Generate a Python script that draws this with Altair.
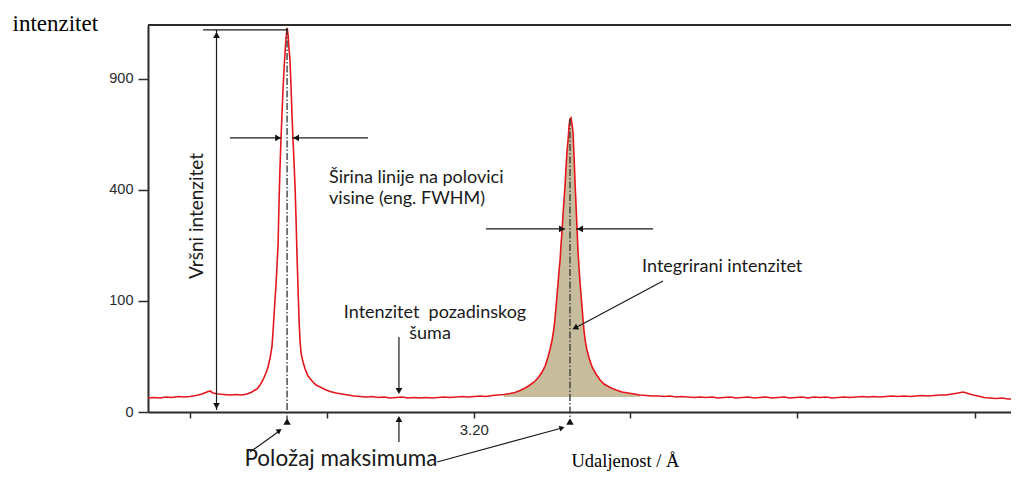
import math
import altair as alt
import pandas as pd

# ---------------- data ----------------
# diffraction curve: 2-theta (deg) and intensity (counts)
two_theta = [
    25.942, 25.977, 26.013, 26.048, 26.083, 26.118, 26.154, 26.189, 26.224, 26.260,
    26.289, 26.307, 26.324, 26.354, 26.389, 26.424, 26.460, 26.495, 26.524, 26.548,
    26.571, 26.583, 26.601, 26.618, 26.636, 26.648, 26.660, 26.671, 26.677, 26.683,
    26.689, 26.695, 26.701, 26.707, 26.713, 26.718, 26.724, 26.730, 26.736, 26.742,
    26.748, 26.754, 26.760, 26.766, 26.771, 26.777, 26.783, 26.789, 26.795, 26.801,
    26.807, 26.813, 26.818, 26.824, 26.830, 26.836, 26.842, 26.854, 26.866, 26.883,
    26.907, 26.930, 26.954, 26.983, 27.013, 27.048, 27.083, 27.118,
    27.154, 27.189, 27.224, 27.260, 27.295, 27.330, 27.366, 27.401, 27.436, 27.471,
    27.507, 27.542, 27.577, 27.613, 27.648, 27.683, 27.718, 27.754, 27.789, 27.824,
    27.860, 27.895, 27.930, 27.966, 28.001, 28.036, 28.071, 28.101, 28.130, 28.160,
    28.189, 28.213, 28.236, 28.260, 28.278, 28.295, 28.307, 28.319, 28.330, 28.336,
    28.342, 28.348, 28.354, 28.360, 28.366, 28.371, 28.377, 28.383, 28.389, 28.395,
    28.401, 28.407, 28.413, 28.418, 28.424, 28.430, 28.436, 28.442, 28.448, 28.454,
    28.460, 28.466, 28.471, 28.477, 28.483, 28.489, 28.495, 28.501, 28.507, 28.513,
    28.524, 28.536, 28.554, 28.577, 28.601, 28.624, 28.660, 28.695, 28.730, 28.766,
    28.801, 28.836, 28.871, 28.907,
    28.942, 28.977, 29.013, 29.048, 29.083, 29.118, 29.154, 29.189, 29.224, 29.260,
    29.295, 29.330, 29.366, 29.401, 29.436, 29.471, 29.507, 29.542, 29.577, 29.613,
    29.648, 29.683, 29.718, 29.754, 29.789, 29.824, 29.860, 29.895, 29.930, 29.966,
    30.001, 30.036, 30.071, 30.107, 30.142, 30.177, 30.213, 30.248, 30.283, 30.318,
    30.354, 30.389, 30.424, 30.460, 30.495, 30.530, 30.566, 30.601, 30.636, 30.671,
    30.707, 30.736, 30.766, 30.795, 30.824, 30.860, 30.895, 30.930, 30.966, 31.001,
    31.018,
]
intensity = [
    1.59, 1.71, 1.59, 1.83, 1.71, 1.95, 1.83, 1.95, 2.21, 2.63,
    3.25, 3.58, 2.93, 2.63, 2.49, 2.35, 2.49, 2.35, 2.63, 3.09,
    3.93, 4.29, 5.92, 8.31, 12.34, 16.44, 23.67, 34.29, 50.65, 74.80,
    101.8, 130.9, 175.4, 226.4, 364.8, 475.3, 600.5, 715.9, 841.5, 949.3,
    1046.0, 1135.2, 1196.8, 1153.5, 1075.4, 1005.6, 867.9, 715.9, 600.5, 503.2,
    410.9, 299.2, 205.2, 130.9, 71.72, 42.07, 28.25, 20.29, 15.01, 10.52,
    7.80, 5.92, 5.07, 4.11, 3.41, 2.93, 2.63, 2.35,
    2.08, 1.95, 1.83, 1.95, 1.71, 1.83, 1.59, 1.71, 1.83, 1.59,
    1.71, 1.59, 1.71, 1.59, 1.71, 1.83, 1.71, 1.83, 1.95, 1.83,
    1.95, 2.08, 1.95, 2.21, 2.35, 2.49, 2.78, 3.09, 3.75, 4.68,
    5.92, 7.31, 9.38, 12.99, 17.17, 24.55, 32.21, 42.07, 57.27, 71.72,
    89.48, 111.1, 135.1, 163.7, 187.5, 226.4, 263.0, 315.0, 364.8, 418.2,
    487.2, 557.1, 600.5, 659.2, 696.8, 701.5, 673.2, 631.8, 527.8, 425.6,
    341.1, 268.8, 213.0, 170.6, 137.2, 111.1, 89.48, 68.69, 53.25, 42.07,
    31.20, 23.67, 16.44, 11.72, 8.31, 6.36, 4.87, 3.93, 3.25, 2.93,
    2.63, 2.35, 2.21, 2.08,
    2.08, 1.95, 2.08, 1.83, 1.95, 1.83, 1.71, 1.83, 1.71, 1.83,
    1.59, 1.71, 1.83, 1.59, 1.71, 1.83, 1.59, 1.71, 1.83, 1.59,
    1.71, 1.83, 1.59, 1.71, 1.83, 1.59, 1.83, 1.71, 1.83, 1.59,
    1.71, 1.83, 1.71, 1.83, 1.95, 1.83, 1.95, 1.83, 1.95, 2.08,
    1.95, 2.08, 1.95, 2.08, 2.21, 2.08, 2.21, 2.35, 2.35, 2.63,
    2.93, 3.25, 2.78, 2.35, 2.08, 1.71, 1.59, 1.48, 1.59, 1.37,
    1.37,
]

# axes
wavelength = 1.5406                      # Cu K-alpha, Å
tick_d = [3.40, 3.30, 3.20, 3.10, 3.00, 2.90]   # d-spacing ticks (Å)
tick_text = ["", "", "3.20", "", "", ""]
y_ticks = [0, 100, 400, 900]
x_domain = [25.942, 31.018]
y_domain = [0, 1215]

# integrated (shaded) region of the second peak and its background level
integ_range = [28.03, 28.84]
integ_base = 1.8

# peak positions (2-theta) and their heights
peak_t = [26.760, 28.424]
peak_i = [1197, 697]

# annotation segments above the axis
seg_x = [26.266, 26.345, 26.424, 26.789, 27.930, 28.460, 28.971, 27.418]
seg_x2 = [26.766, 26.345, 26.724, 27.236, 28.395, 28.913, 28.454, 27.418]
seg_y = [1184.4, 1184.4, 609.3, 609.3, 271.8, 271.8, 139.3, 45.65]
seg_y2 = [1184.4, 0.03, 609.3, 609.3, 271.8, 271.8, 57.27, 3.58]

# arrow heads above the axis
head_x = [26.345, 26.345, 26.707, 26.813, 28.377, 28.483, 28.454, 27.418]
head_y = [1153.0, 0.29, 609.3, 609.3, 271.8, 271.8, 57.27, 3.58]
head_angle = [0, 180, 90, 270, 90, 270, 242, 180]

# labels
left_text = ["Širina linije na polovici", "visine (eng. FWHM)", "Integrirani intenzitet"]
left_x = [27.007, 27.007, 28.848]
left_y = [425.6, 351.1, 159.1]
center_text = ["Intenzitet\u00a0 pozadinskog", "šuma"]
center_x = [27.630, 27.601]
center_y = [71.72, 43.25]
vert_text = ["Vršni intenzitet"]
vert_x = [26.230]
vert_y = [311.8]
below_text = ["Položaj maksimuma"]
below_x = [27.077]

# below-axis arrows (anchored on the x axis, intensity 0)
bg_arrow_x = [27.418]
diag1_x, diag1_x2 = [26.542], [26.715]
diag2_x, diag2_x2 = [27.642], [28.377]

# ---------------- chart ----------------
tick_pos = [round(2 * math.degrees(math.asin(wavelength / (2 * d))), 4) for d in tick_d]
label_expr = "''"
for p, lab in zip(tick_pos, tick_text):
    if lab:
        label_expr = f"abs(datum.value - {p}) < 0.001 ? '{lab}' : " + label_expr

xs = alt.Scale(domain=x_domain, nice=False, zero=False)
ys = alt.Scale(type="sqrt", domain=y_domain, nice=False, zero=True)

INK = "#1a1a1a"
AX = "#2b2b2b"
SANS = "Lato"

x_axis = alt.Axis(
    orient="bottom",
    values=tick_pos, labelExpr=label_expr, grid=False,
    tickSize=6, tickWidth=1.5, tickColor=AX, domainColor=AX, domainWidth=2,
    labelFont="Liberation Sans", labelFontSize=15, labelColor=AX, labelPadding=4,
    labelOverlap=False, labelFlush=False,
    title="Udaljenost / Å", titleFont="Liberation Serif", titleFontSize=18.5,
    titleFontWeight="normal", titleColor="#000000", titleX=423, titleY=54,
    titleAlign="left", titleBaseline="alphabetic",
)
y_axis = alt.Axis(
    orient="left",
    values=y_ticks, format="d", grid=False,
    tickSize=10, tickWidth=1.5, tickColor=AX, domainColor=AX, domainWidth=2,
    labelFont="Liberation Sans", labelFontSize=14.5, labelColor=AX, labelPadding=5,
    title="intenzitet", titleFont="Liberation Serif", titleFontSize=23,
    titleFontWeight="normal", titleColor="#000000", titleAngle=0,
    titleX=-136, titleY=5, titleAlign="left", titleBaseline="alphabetic",
)


def X(f):
    return alt.X(f, type="quantitative", scale=xs)


def Y(f):
    return alt.Y(f, type="quantitative", scale=ys)


curve = pd.DataFrame({"t": two_theta, "i": intensity})
curve["b"] = integ_base
segs = pd.DataFrame({"x": seg_x, "x2": seg_x2, "y": seg_y, "y2": seg_y2})
heads = pd.DataFrame({"x": head_x, "y": head_y, "a": head_angle})
peaks = pd.DataFrame({"x": peak_t, "y": peak_i, "z": [0] * len(peak_t)})
lt = pd.DataFrame({"x": left_x, "y": left_y, "s": left_text})
ct = pd.DataFrame({"x": center_x, "y": center_y, "s": center_text})
vt = pd.DataFrame({"x": vert_x, "y": vert_y, "s": vert_text})
bt = pd.DataFrame({"x": below_x, "z": [0], "s": below_text})
marker_df = pd.DataFrame({"x": peak_t, "z": [0] * len(peak_t)})
bg_df = pd.DataFrame({"x": bg_arrow_x, "z": [0]})
d1 = pd.DataFrame({"x": diag1_x, "x2": diag1_x2, "z": [0]})
d2 = pd.DataFrame({"x": diag2_x, "x2": diag2_x2, "z": [0]})
frame = pd.DataFrame({"x": [x_domain[0]], "x2": [x_domain[1]], "y": [y_domain[1]]})

area = alt.Chart(curve).transform_filter(
    alt.FieldRangePredicate(field="t", range=integ_range)
).mark_area(color="#c7bd9c", opacity=1).encode(
    x=alt.X("t:Q", scale=xs, axis=x_axis), y=alt.Y("i:Q", scale=ys, axis=y_axis), y2="b:Q"
)

line = alt.Chart(curve).mark_line(color="#e5161c", strokeWidth=1.6).encode(
    x=X("t"), y=Y("i"),
)

frame_top = alt.Chart(frame).mark_rule(color=AX, strokeWidth=2).encode(
    x=X("x"), x2="x2:Q", y=Y("y"),
)

dashdot = alt.Chart(peaks).mark_rule(
    color="#333333", strokeWidth=1.3, strokeDash=[7, 2, 1.5, 2], y2Offset=7
).encode(x=X("x"), y=Y("y"), y2="z:Q")

seg_layer = alt.Chart(segs).mark_rule(color=INK, strokeWidth=1.2).encode(
    x=X("x"), x2="x2:Q", y=Y("y"), y2="y2:Q"
)

head_layer = alt.Chart(heads).mark_point(
    shape="triangle-up", filled=True, size=45, color="#111111", opacity=1
).encode(x=X("x"), y=Y("y"), angle=alt.Angle("a:Q", scale=None))

markers = alt.Chart(marker_df).mark_point(
    shape="triangle-up", filled=True, size=55, color="#111111", opacity=1, yOffset=9.5
).encode(x=X("x"), y=Y("z"))

bg_head = alt.Chart(bg_df).mark_point(
    shape="triangle-up", filled=True, size=45, color="#111111", opacity=1, yOffset=7
).encode(x=X("x"), y=Y("z"))

bg_line = alt.Chart(bg_df).mark_rule(
    color=INK, strokeWidth=1.2, yOffset=9, y2Offset=30
).encode(x=X("x"), y=Y("z"), y2="z:Q")

diag1 = alt.Chart(d1).mark_rule(
    color=INK, strokeWidth=1.2, yOffset=40, y2Offset=19
).encode(x=X("x"), x2="x2:Q", y=Y("z"), y2="z:Q")

diag1_head = alt.Chart(d1).mark_point(
    shape="triangle-up", filled=True, size=35, color="#111111", opacity=1,
    yOffset=18.5, angle=55
).encode(x=X("x2"), y=Y("z"))

diag2 = alt.Chart(d2).mark_rule(
    color=INK, strokeWidth=1.2, yOffset=50, y2Offset=16
).encode(x=X("x"), x2="x2:Q", y=Y("z"), y2="z:Q")

diag2_head = alt.Chart(d2).mark_point(
    shape="triangle-up", filled=True, size=35, color="#111111", opacity=1,
    yOffset=16, angle=75
).encode(x=X("x2"), y=Y("z"))

txt_left = alt.Chart(lt).mark_text(
    align="left", baseline="alphabetic", font=SANS, fontSize=18, color=INK
).encode(x=X("x"), y=Y("y"), text="s:N")

txt_center = alt.Chart(ct).mark_text(
    align="center", baseline="alphabetic", font=SANS, fontSize=18, color=INK
).encode(x=X("x"), y=Y("y"), text="s:N")

txt_vert = alt.Chart(vt).mark_text(
    align="center", baseline="middle", font=SANS, fontSize=19, color=INK, angle=270
).encode(x=X("x"), y=Y("y"), text="s:N")

txt_below = alt.Chart(bt).mark_text(
    align="center", baseline="alphabetic", font=SANS, fontSize=22.5, color=INK, dy=54
).encode(x=X("x"), y=Y("z"), text="s:N")

chart = alt.layer(
    area, line, frame_top, dashdot, seg_layer, head_layer, markers,
    bg_line, bg_head, diag1, diag1_head, diag2, diag2_head,
    txt_left, txt_center, txt_vert, txt_below,
).properties(
    width=863, height=387,
    autosize=alt.AutoSizeParams(type="none"),
    padding={"left": 140, "top": 17, "right": 0, "bottom": 65},
    background="white",
).configure_view(stroke="transparent", strokeWidth=0).configure_axisRight(
    domainOpacity=0, tickOpacity=0, labelOpacity=0, titleOpacity=0
).configure_axisTop(
    domainOpacity=0, tickOpacity=0, labelOpacity=0, titleOpacity=0
)

chart.save("out.html", embed_options={"renderer": "svg", "actions": False})
